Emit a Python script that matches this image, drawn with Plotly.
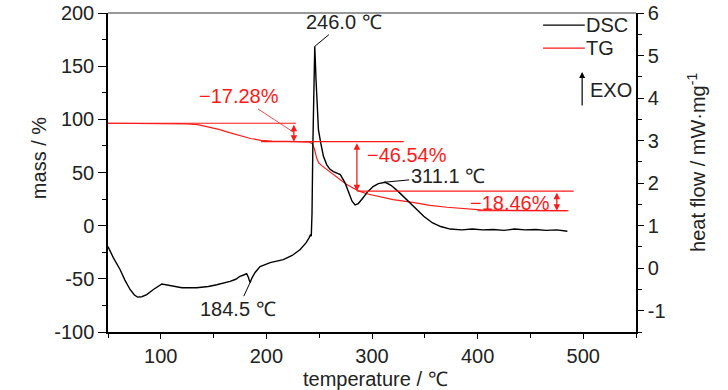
import plotly.graph_objects as go

# ---- data ----
dsc_T = [50, 55, 61.4, 66, 70.9, 75, 78, 82, 86.7, 93, 101, 105.5, 112, 120, 134, 145, 153,
         160, 165.6, 171, 175, 178.5, 181.3, 183, 184.5, 186.5, 189.3, 194, 203.6, 216, 224.4,
         232, 237.7, 240.5, 241.8, 242.5, 243.2, 244, 245, 245.8, 247, 249.3, 251.5, 254,
         257.2, 260, 263.5, 267, 270, 274.6, 277.8, 281, 284, 287, 291, 296, 301, 306,
         312.6, 318, 325, 333, 340, 349, 357, 365, 374, 385, 395, 405, 415, 425, 435, 445,
         455, 465, 475, 485]
dsc_hf = [0.51, 0.25, -0.03, -0.28, -0.5, -0.63, -0.68, -0.67, -0.62, -0.5, -0.37, -0.39,
          -0.43, -0.46, -0.46, -0.43, -0.39, -0.35, -0.31, -0.26, -0.19, -0.16, -0.13,
          -0.22, -0.34, -0.22, -0.1, 0.04, 0.13, 0.2, 0.3, 0.44, 0.6, 0.72, 0.79, 0.75,
          1.3, 2.9, 4.5, 5.22, 4.43, 3.25, 2.94, 2.63, 2.43, 2.33, 2.27, 2.24, 2.2, 2.0,
          1.77, 1.58, 1.49, 1.52, 1.64, 1.8, 1.92, 1.99, 2.02, 1.95, 1.8, 1.61, 1.45, 1.22,
          1.07, 0.98, 0.92, 0.9, 0.92, 0.9, 0.91, 0.89, 0.92, 0.9, 0.91, 0.89, 0.9, 0.87]

tg_T = [50, 70, 90, 110, 125, 135, 145, 155, 165, 175, 185, 195, 205, 220, 235, 241, 243.5,
        245.5, 247.5, 249.5, 253, 257, 262, 268, 275, 282, 288, 295, 305, 320, 340, 355,
        371, 390, 403, 430, 460, 485]
tg_mass = [96.3, 96.1, 96.3, 96.0, 95.7, 95.0, 93.0, 90.5, 87.5, 84.5, 82.0, 80.3, 79.6,
           79.3, 79.1, 78.5, 77.0, 72, 64, 59, 56, 53, 49, 44.5, 39.5, 35.5, 32.5, 30,
           27.7, 24.5, 21.6, 19, 17.3, 15.5, 14.8, 14.4, 14.2, 14.1]

mass_start = 96.3
losses = [17.28, 46.54, 18.46]
loss_labels = ["\u221217.28%", "\u221246.54%", "\u221218.46%"]
peak_T = [246.0, 311.1, 184.5]
peak_hf = [5.22, 2.02, -0.34]
peak_labels = ["246.0 \u2103", "311.1 \u2103", "184.5 \u2103"]

x_ticks = [100, 200, 300, 400, 500]
x_ticktext = ["100", "200", "300", "400", "500"]
y_ticks = [-100, -50, 0, 50, 100, 150, 200]
y_ticktext = ["-100", "-50", "0", "50", "100", "150", "200"]
y2_ticks = [-1, 0, 1, 2, 3, 4, 5, 6]
y2_ticktext = ["-1", "0", "1", "2", "3", "4", "5", "6"]

FONT = "Liberation Sans, Arial, sans-serif"
FS = 20
RED = "#ff1a1a"
TXT = "#222"

levels = [mass_start]
for l in losses:
    levels.append(levels[-1] - l)

fig = go.Figure()
fig.add_trace(go.Scatter(x=dsc_T, y=dsc_hf, mode="lines", name="DSC", yaxis="y2",
                         line=dict(color="black", width=1.4), showlegend=False))
fig.add_trace(go.Scatter(x=tg_T, y=tg_mass, mode="lines", name="TG",
                         line=dict(color=RED, width=1.2), showlegend=False))

# step reference lines
seg = [(50, 228), (195, 330), (286, 491), (400, 486)]
for (x0, x1), lv in zip(seg, levels):
    fig.add_shape(type="line", xref="x", yref="y", x0=x0, x1=x1, y0=lv, y1=lv,
                  line=dict(color=RED, width=1.2))

# double arrows
arrow_T = [226, 285.7, 475]
for i, aT in enumerate(arrow_T):
    fig.add_annotation(x=aT, y=levels[i + 1], ax=aT, ay=levels[i], xref="x", yref="y",
                       axref="x", ayref="y", text="", showarrow=True, arrowhead=2,
                       arrowside="end+start", arrowsize=1, arrowwidth=1.3, arrowcolor=RED)

# loss labels
fig.add_annotation(x=arrow_T[0], y=(levels[0] + levels[1]) / 2, xref="x", yref="y",
                   text=loss_labels[0], ax=-55, ay=-36, showarrow=True, arrowhead=0,
                   arrowwidth=0.8, arrowcolor=RED, font=dict(color=RED, size=FS, family=FONT))
fig.add_annotation(x=293, y=66.5, xref="x", yref="y", text=loss_labels[1], showarrow=False,
                   xanchor="left", yanchor="middle", font=dict(color=RED, size=FS, family=FONT))
fig.add_annotation(x=470, y=21.5, xref="x", yref="y", text=loss_labels[2], showarrow=False,
                   xanchor="right", yanchor="middle", font=dict(color=RED, size=FS, family=FONT))

# peak labels
offs = [(29, -24), (64, -6), (-12, 26)]
for T, hf, lab, (dx, dy) in zip(peak_T, peak_hf, peak_labels, offs):
    fig.add_annotation(x=T, y=hf, xref="x", yref="y2", text=lab, ax=dx, ay=dy,
                       showarrow=True, arrowhead=0, arrowwidth=1, arrowcolor="black",
                       font=dict(color=TXT, size=FS, family=FONT))

# manual legend
leg_names = ["DSC", "TG"]
leg_colors = ["black", RED]
leg_y = [0.962, 0.890]
for nm, c, yy in zip(leg_names, leg_colors, leg_y):
    fig.add_shape(type="line", xref="paper", yref="paper", x0=0.824, x1=0.903, y0=yy, y1=yy,
                  line=dict(color=c, width=1.2))
    fig.add_annotation(x=0.905, y=yy, xref="paper", yref="paper", text=nm, showarrow=False,
                       xanchor="left", yanchor="middle", xshift=-2,
                       font=dict(color=TXT, size=FS, family=FONT))

# EXO arrow
fig.add_annotation(x=0.898, y=0.815, xref="paper", yref="paper", ax=0, ay=35,
                   text="", showarrow=True, arrowhead=2, arrowsize=1, arrowwidth=1.2,
                   arrowcolor="black")
fig.add_annotation(x=0.909, y=0.759, xref="paper", yref="paper", text="EXO",
                   showarrow=False, xanchor="left", yanchor="middle",
                   font=dict(color=TXT, size=FS, family=FONT))

# axis titles
fig.add_annotation(x=-0.1307, y=0.545, xref="paper", yref="paper", text="mass / %",
                   textangle=-90, showarrow=False, xanchor="center", yanchor="middle",
                   font=dict(color=TXT, size=FS, family=FONT))
fig.add_annotation(x=1.1155, y=0.533, xref="paper", yref="paper",
                   text="heat flow / mW\u00b7mg<sup>-1</sup>", xanchor="center", yanchor="middle",
                   textangle=-90, showarrow=False, font=dict(color=TXT, size=FS, family=FONT))
fig.add_annotation(x=0.5057, y=-0.146, xref="paper", yref="paper",
                   text="temperature / \u2103", showarrow=False, xanchor="center",
                   yanchor="middle", font=dict(color=TXT, size=FS, family=FONT))

# top border
fig.add_shape(type="line", xref="paper", yref="paper", x0=0, x1=1, y0=1, y1=1,
              line=dict(color="#777", width=1.5))

axis_common = dict(showgrid=False, zeroline=False, showline=True, linecolor="black",
                   linewidth=1.5, ticks="outside", tickcolor="black", automargin=False,
                   ticklabeloverflow="allow",
                   tickfont=dict(size=FS, family=FONT, color=TXT))

fig.update_layout(
    width=728, height=390,
    margin=dict(l=108, r=92, t=13, b=58),
    paper_bgcolor="white", plot_bgcolor="white",
    font=dict(family=FONT, size=FS, color=TXT),
    showlegend=False,
    xaxis=dict(range=[50, 550], tickvals=x_ticks, ticktext=x_ticktext, ticklen=5,
               minor=dict(dtick=50, ticklen=4, ticks="outside", tickcolor="black"),
               **axis_common),
    yaxis=dict(range=[-100, 200], tickvals=y_ticks, ticktext=y_ticktext, ticklen=8,
               minor=dict(dtick=25, ticklen=4, ticks="outside", tickcolor="black"),
               **axis_common),
    yaxis2=dict(range=[-1.5, 6], tickvals=y2_ticks, ticktext=y2_ticktext, ticklen=6,
                overlaying="y", side="right",
                minor=dict(dtick=0.5, ticklen=4, ticks="outside", tickcolor="black"),
                **axis_common),
)

# remove the default page margin so the 728x390 figure fills the window exactly
fig.write_html("out.html", config={"displayModeBar": False},
               post_script="document.body.style.margin='0';")
